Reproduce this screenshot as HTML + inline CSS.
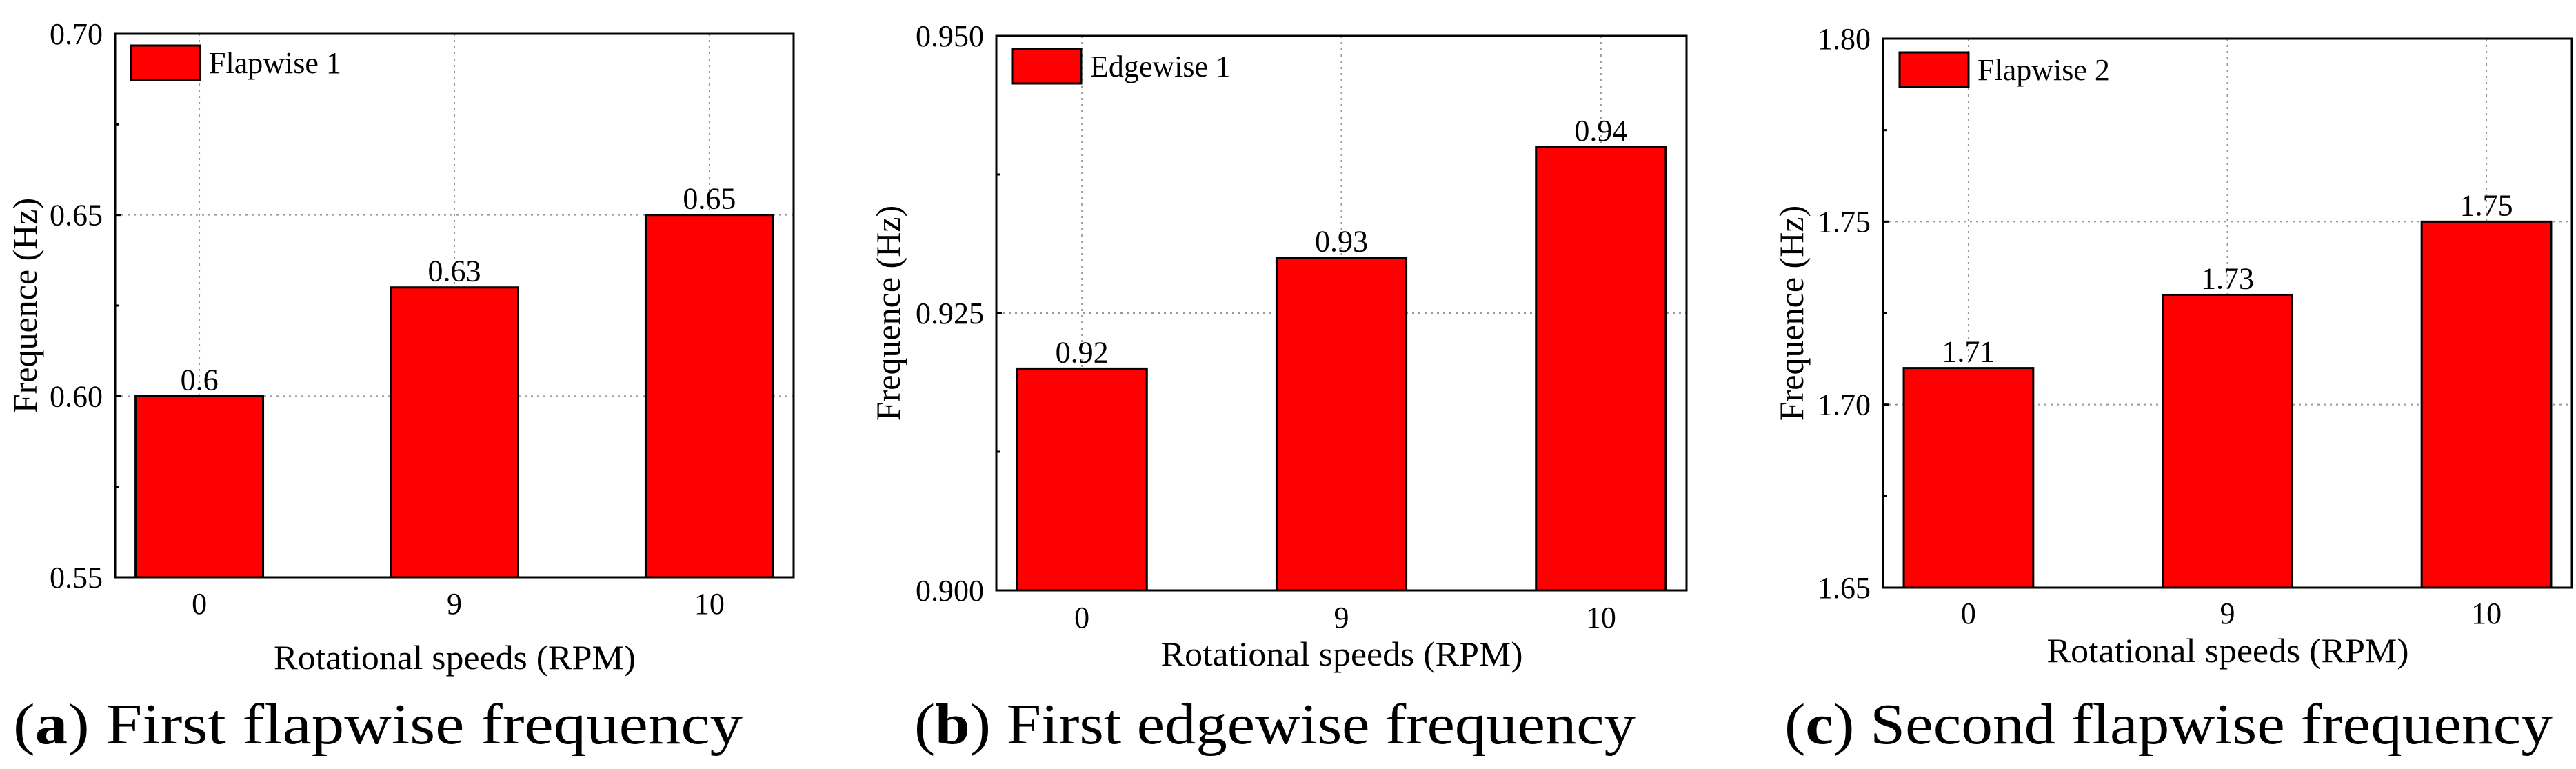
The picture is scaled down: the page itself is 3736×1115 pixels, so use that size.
<!DOCTYPE html>
<html><head><meta charset="utf-8">
<style>
html,body{margin:0;padding:0;background:#fff;}
svg{display:block;}
text{font-family:"Liberation Serif",serif;fill:#000;}
</style></head>
<body>
<svg id="fig" width="3736" height="1115" viewBox="0 0 3736 1115" xmlns="http://www.w3.org/2000/svg"></svg>
<script>
const categories = ["0", "9", "10"];
const valuesA = [0.60, 0.63, 0.65];
const valuesB = [0.92, 0.93, 0.94];
const valuesC = [1.71, 1.73, 1.75];
const labelsA = ["0.6", "0.63", "0.65"];
const labelsB = ["0.92", "0.93", "0.94"];
const labelsC = ["1.71", "1.73", "1.75"];
const ticksA = [0.55, 0.60, 0.65, 0.70];
const ticksB = [0.900, 0.925, 0.950];
const ticksC = [1.65, 1.70, 1.75, 1.80];
const tickLabelsA = ["0.55", "0.60", "0.65", "0.70"];
const tickLabelsB = ["0.900", "0.925", "0.950"];
const tickLabelsC = ["1.65", "1.70", "1.75", "1.80"];
const legendNames = ["Flapwise 1", "Edgewise 1", "Flapwise 2"];

const NS = "http://www.w3.org/2000/svg";
const svg = document.getElementById("fig");
function mk(tag, attrs, parent) {
  const e = document.createElementNS(NS, tag);
  for (const k in attrs) e.setAttribute(k, attrs[k]);
  (parent || svg).appendChild(e);
  return e;
}

const panels = [
  {id:"a", L:167, R:1151, T:49, B:837, vals:valuesA, labs:labelsA, ticks:ticksA, tl:tickLabelsA,
   xlabY:890, titleY:970, yTitleX:36, leg:[190,66], capL:19, capW:1058, capWord:"First flapwise frequency"},
  {id:"b", L:1445, R:2446, T:52, B:856, vals:valuesB, labs:labelsB, ticks:ticksB, tl:tickLabelsB,
   xlabY:910, titleY:965, yTitleX:1288, leg:[1468,71], capL:1326, capW:1046, capWord:"First edgewise frequency"},
  {id:"c", L:2731, R:3730, T:56, B:852, vals:valuesC, labs:labelsC, ticks:ticksC, tl:tickLabelsC,
   xlabY:904, titleY:960, yTitleX:2598, leg:[2755,76], capL:2588, capW:1114, capWord:"Second flapwise frequency"}
];

panels.forEach((p, pi) => {
  const g = mk("g", {});
  
  
  const ymin = p.ticks[0], ymax = p.ticks[p.ticks.length-1];
  const y = v => p.B - (v - ymin) / (ymax - ymin) * (p.B - p.T);
  const n = categories.length;
  const step = (p.R - p.L) / (n - 1 + 0.66);
  const x = i => p.L + step * 0.33 + i * step;
  const bw = step * 0.5;

  p.ticks.forEach((t, i) => {
    if (i === 0 || i === p.ticks.length-1) return;
    const gl = mk("line", {x1:p.L, x2:p.R, y1:y(t), y2:y(t), stroke:"#999", "stroke-width":2, "stroke-dasharray":"3,6"}, g);
    
    
  });
  categories.forEach((c, i) => {
    const gl = mk("line", {x1:x(i), x2:x(i), y1:p.T, y2:p.B, stroke:"#999", "stroke-width":2, "stroke-dasharray":"3,6"}, g);
    
    
  });

  p.vals.forEach((v, i) => {
    const r = mk("rect", {x:x(i)-bw/2, y:y(v), width:bw, height:p.B-y(v), fill:"#ff0000", stroke:"#000", "stroke-width":3}, g);
    
    
    const t = mk("text", {x:x(i), y:y(v)-9, "text-anchor":"middle", "font-size":44}, g);
    t.textContent = p.labs[i];
    
    
  });

  const fr = mk("rect", {x:p.L, y:p.T, width:p.R-p.L, height:p.B-p.T, fill:"none", stroke:"#000", "stroke-width":3}, g);
  
  

  p.ticks.forEach((t, i) => {
    const tl = mk("text", {x:p.L-18, y:y(t)+15, "text-anchor":"end", "font-size":44}, g);
    tl.textContent = p.tl[i];
    
    
    mk("line", {x1:p.L, x2:p.L+8, y1:y(t), y2:y(t), stroke:"#000", "stroke-width":3}, g);
    if (i < p.ticks.length-1) {
      const m = (t + p.ticks[i+1]) / 2;
      mk("line", {x1:p.L, x2:p.L+6, y1:y(m), y2:y(m), stroke:"#000", "stroke-width":3}, g);
    }
  });
  categories.forEach((c, i) => {
    const t = mk("text", {x:x(i), y:p.xlabY, "text-anchor":"middle", "font-size":44}, g);
    t.textContent = c;
    
    
  });
  const xc = (x(0)+x(n-1))/2;
  const xt = mk("text", {x:xc-262, y:p.titleY, "font-size":50, textLength:525, lengthAdjust:"spacingAndGlyphs"}, g);
  xt.textContent = "Rotational speeds (RPM)";
  
  
  const yc = (p.T + p.B) / 2;
  const yt = mk("text", {x:p.yTitleX, y:yc, "text-anchor":"middle", "font-size":50, transform:"rotate(-90 "+p.yTitleX+" "+yc+") translate(0 17)"}, g);
  yt.textContent = "Frequence (Hz)";
  
  

  const lg = mk("g", {}, g);
  
  
  mk("rect", {x:p.leg[0], y:p.leg[1], width:100, height:50, fill:"#ff0000", stroke:"#000", "stroke-width":3}, lg);
  const lt = mk("text", {x:p.leg[0]+113, y:p.leg[1]+40, "font-size":44}, lg);
  lt.textContent = legendNames[pi];

  const cap = mk("text", {x:p.capL, y:1078, "font-size":84, textLength:p.capW, lengthAdjust:"spacingAndGlyphs"}, g);
  
  
  const t1 = mk("tspan", {}, cap); t1.textContent = "(";
  const t2 = mk("tspan", {"font-weight":"bold"}, cap); t2.textContent = p.id;
  const t3 = mk("tspan", {}, cap); t3.textContent = ") " + p.capWord;
});
</script>
</body></html>
